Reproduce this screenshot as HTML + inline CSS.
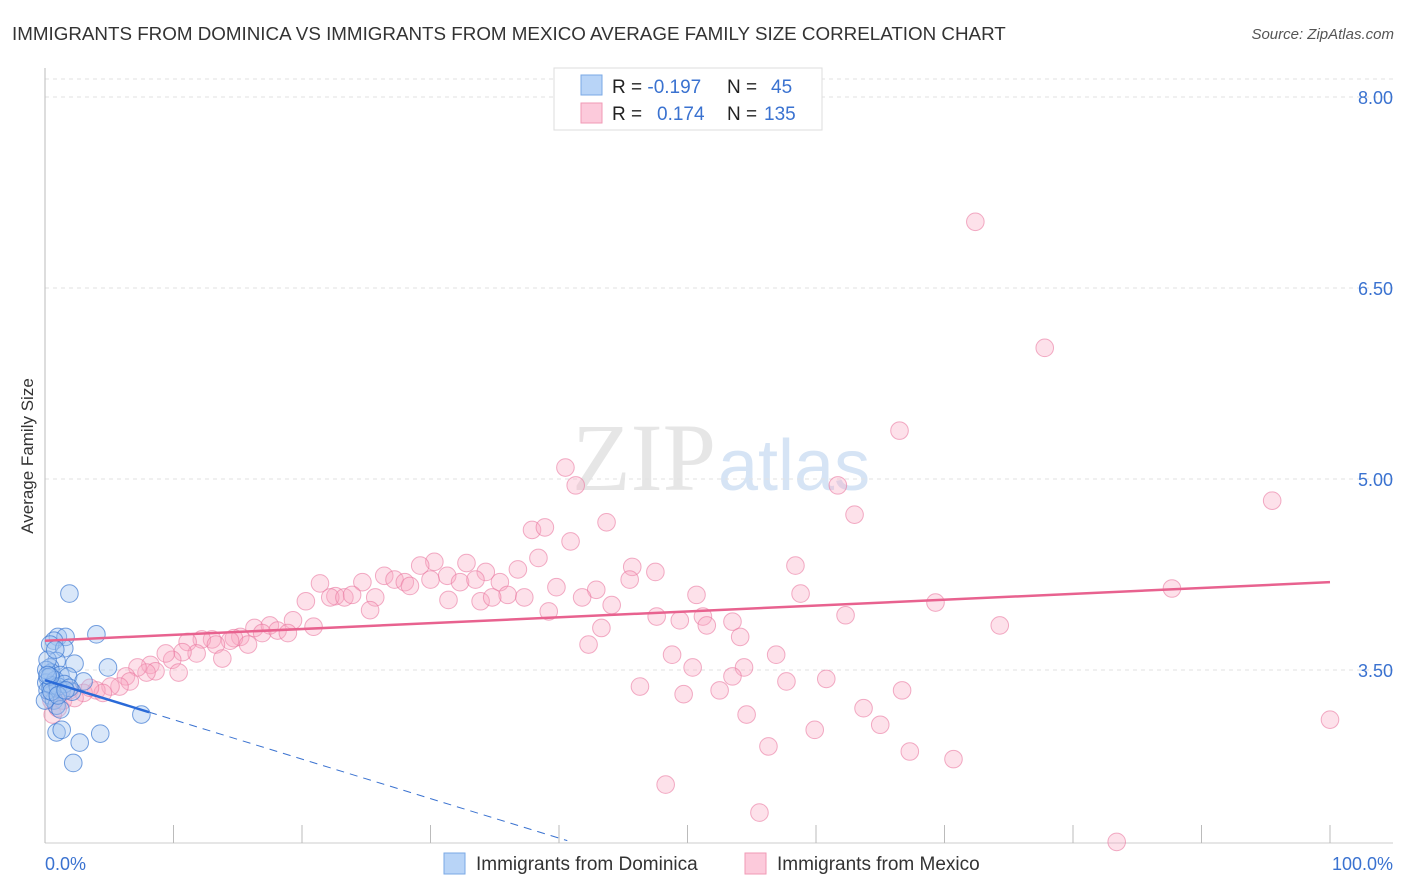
<!DOCTYPE html>
<html><head><meta charset="utf-8"><style>
body{margin:0;background:#fff;font-family:"Liberation Sans",sans-serif;}
svg{display:block}
</style></head><body>
<svg id="c" width="1406" height="892" xmlns="http://www.w3.org/2000/svg">
<text x="12" y="40" font-size="18.8" fill="#333">IMMIGRANTS FROM DOMINICA VS IMMIGRANTS FROM MEXICO AVERAGE FAMILY SIZE CORRELATION CHART</text>
<text x="1394" y="39" font-size="15" fill="#555" font-style="italic" text-anchor="end">Source: ZipAtlas.com</text>
<text x="33" y="456" font-size="17" fill="#333" text-anchor="middle" transform="rotate(-90 33 456)">Average Family Size</text>
<text x="716" y="490" font-size="96" fill="#e6e6e6" text-anchor="end" font-family="Liberation Serif">ZIP</text>
<text x="718" y="490" font-size="72" fill="#d6e4f5">atlas</text>
<g id="grid"></g><g id="pts"></g><g id="trend"></g>
<g>
<rect x="554" y="68" width="268" height="62" fill="#fff" stroke="#ddd"/>
<rect x="581" y="75" width="21" height="20" fill="#b8d4f7" stroke="#7aa8e6"/>
<rect x="581" y="103" width="21" height="20" fill="#fccadb" stroke="#f09ab6"/>
<text x="612" y="93" font-size="19" fill="#222">R = <tspan fill="#3a72d0">-0.197</tspan><tspan x="727">N = </tspan><tspan x="771" fill="#3a72d0">45</tspan></text>
<text x="612" y="120" font-size="19" fill="#222">R = <tspan x="657" fill="#3a72d0">0.174</tspan><tspan x="727">N = </tspan><tspan x="764" fill="#3a72d0">135</tspan></text>
</g>
<g>
<rect x="444" y="853" width="21" height="21" fill="#b8d4f7" stroke="#7aa8e6"/>
<text x="476" y="870" font-size="19" fill="#333">Immigrants from Dominica</text>
<rect x="745" y="853" width="21" height="21" fill="#fccadb" stroke="#f09ab6"/>
<text x="777" y="870" font-size="19" fill="#333">Immigrants from Mexico</text>
</g>
<text x="45" y="870" font-size="18" fill="#3a72d0">0.0%</text>
<text x="1393" y="870" font-size="18" fill="#3a72d0" text-anchor="end">100.0%</text>
</svg>
<script>
const yTicks=[8.00,6.50,5.00,3.50];
const xTicks=[0,10,20,30,40,50,60,70,80,90,100];
const mexX=[72.4,77.8,66.5,40.5,41.3,61.7,95.5,63.0,43.7,37.9,38.9,40.9,38.4,58.4,30.3,32.8,47.5,45.7,34.3,26.4,29.2,31.3,32.3,36.8,21.4,24.7,27.2,28.0,28.4,30.0,39.8,45.5,42.9,33.5,35.4,36.0,33.9,34.8,37.3,31.4,41.8,44.1,50.7,58.8,87.7,69.3,20.3,22.6,22.2,23.3,23.9,25.7,25.3,19.3,20.9,39.2,47.6,49.4,51.2,53.5,62.3,51.5,54.1,43.3,74.3,16.3,17.5,16.9,18.1,18.9,15.2,14.7,14.4,13.0,12.2,11.1,11.8,13.3,15.8,13.8,10.7,9.9,9.4,8.2,8.6,7.9,7.2,10.4,6.3,6.6,5.8,5.1,4.0,4.5,3.0,1.9,1.1,0.5,0.6,1.0,1.4,2.3,3.5,42.3,48.8,50.4,54.4,56.9,53.5,57.7,60.8,46.3,49.7,52.5,66.7,54.6,63.7,59.9,65.0,56.3,67.3,70.7,48.3,55.6,83.4,100];
const mexY=[7.02,6.03,5.38,5.09,4.95,4.95,4.83,4.72,4.66,4.60,4.62,4.51,4.38,4.32,4.35,4.34,4.27,4.31,4.27,4.24,4.32,4.24,4.19,4.29,4.18,4.19,4.21,4.19,4.16,4.21,4.15,4.21,4.13,4.21,4.19,4.09,4.04,4.07,4.07,4.05,4.07,4.01,4.09,4.10,4.14,4.03,4.04,4.08,4.07,4.07,4.09,4.07,3.97,3.89,3.84,3.96,3.92,3.89,3.92,3.88,3.93,3.85,3.76,3.83,3.85,3.83,3.85,3.79,3.81,3.79,3.76,3.75,3.73,3.74,3.74,3.72,3.63,3.70,3.70,3.59,3.64,3.58,3.63,3.54,3.49,3.48,3.52,3.48,3.45,3.41,3.37,3.37,3.34,3.32,3.32,3.34,3.31,3.26,3.15,3.20,3.26,3.28,3.36,3.70,3.62,3.52,3.52,3.62,3.45,3.41,3.43,3.37,3.31,3.34,3.34,3.15,3.20,3.03,3.07,2.90,2.86,2.80,2.60,2.38,2.15,3.11];
const domX=[1.9,4.0,1.0,1.6,0.7,0.4,1.5,0.9,2.3,4.9,0.4,0.5,1.2,0.2,0.1,0.8,1.8,3.0,0.4,1.3,2.1,0.4,0.7,0.9,1.2,7.5,0.9,1.3,4.3,2.7,2.2,0.2,0.5,0.1,1.0,1.5,0.4,0.2,1.9,0.8,0,0.5,1.0,1.6,0.2];
const domY=[4.10,3.78,3.76,3.76,3.73,3.70,3.67,3.57,3.55,3.52,3.52,3.48,3.46,3.44,3.40,3.42,3.45,3.41,3.36,3.34,3.33,3.30,3.26,3.22,3.19,3.15,3.01,3.03,3.00,2.93,2.77,3.34,3.38,3.50,3.37,3.39,3.45,3.58,3.36,3.66,3.26,3.33,3.30,3.34,3.46];
const mexTrend=[3.73,4.19];
const domTrend=[3.42,-0.031];
const NS="http://www.w3.org/2000/svg";
const X0=45,X1=1330,YB=843;
const sx=v=>X0+(X1-X0)*v/100;
const sy=v=>670-(v-3.5)*127.33;
function mk(t,a,p){const e=document.createElementNS(NS,t);for(const k in a)e.setAttribute(k,a[k]);p.appendChild(e);return e;}
const grid=document.getElementById('grid');
mk('line',{x1:45,y1:79,x2:1393,y2:79,stroke:'#e2e2e2','stroke-dasharray':'4 4'},grid);
yTicks.forEach(t=>{const l=mk('line',{x1:45,y1:sy(t),x2:1393,y2:sy(t),stroke:'#e2e2e2','stroke-dasharray':'4 4'},grid);


const tx=mk('text',{x:1393,y:sy(t)+7,'font-size':18,fill:'#3a72d0','text-anchor':'end'},grid);tx.textContent=t.toFixed(2);

});
mk('line',{x1:45,y1:68,x2:45,y2:YB,stroke:'#bbb'},grid);
mk('line',{x1:45,y1:YB,x2:1393,y2:YB,stroke:'#ccc'},grid);
xTicks.forEach(t=>{const l=mk('line',{x1:sx(t),y1:YB,x2:sx(t),y2:825,stroke:'#bbb'},grid);

});
const pts=document.getElementById('pts');
mexX.forEach((x,i)=>{const c=mk('circle',{cx:sx(x),cy:sy(mexY[i]),r:8.8,fill:'rgba(248,170,196,0.35)',stroke:'rgba(234,120,160,0.6)','stroke-width':1},pts);

});
domX.forEach((x,i)=>{const c=mk('circle',{cx:sx(x),cy:sy(domY[i]),r:8.8,fill:'rgba(160,196,240,0.4)',stroke:'rgba(60,120,210,0.7)','stroke-width':1},pts);

});
const tr=document.getElementById('trend');
const pl=mk('line',{x1:sx(0),y1:sy(mexTrend[0]),x2:sx(100),y2:sy(mexTrend[1]),stroke:'#e8628f','stroke-width':2.5},tr);


const dEnd=(2.16-domTrend[0])/domTrend[1];
const dl=mk('line',{x1:sx(8.1),y1:sy(domTrend[0]+domTrend[1]*8.1),x2:sx(dEnd),y2:sy(2.16),stroke:'#3a72d0','stroke-width':1,'stroke-dasharray':'8 6'},tr);


const bl=mk('line',{x1:sx(0),y1:sy(domTrend[0]),x2:sx(8.1),y2:sy(domTrend[0]+domTrend[1]*8.1),stroke:'#2a6ad8','stroke-width':2.5},tr);


</script>
</body></html>
